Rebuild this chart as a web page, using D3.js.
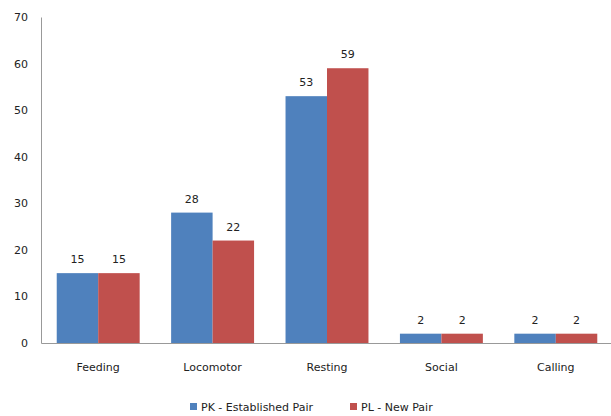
<!DOCTYPE html>
<meta charset="utf-8">
<script src="https://d3js.org/d3.v7.min.js"></script>
<style>
  body { margin: 0; background: #fff; }
  text { font-family: "DejaVu Sans", sans-serif; font-size: 11px; fill: #222; }
</style>
<div id="chart"></div>
<script>
// data
var categories = ["Feeding", "Locomotor", "Resting", "Social", "Calling"];
var seriesNames = ["PK - Established Pair", "PL - New Pair"];
var pkValues = [15, 28, 53, 2, 2];
var plValues = [15, 22, 59, 2, 2];
var yTicks = [0, 10, 20, 30, 40, 50, 60, 70];
var colors = ["#4F81BD", "#C0504D"];

var W = 611, H = 416;
var margin = {top: 17, right: -2, bottom: 73, left: 41};
var width = W - margin.left - margin.right,
    height = H - margin.top - margin.bottom;

var svg = d3.select("#chart").append("svg")
    .attr("width", W).attr("height", H)
  .append("g")
    .attr("transform", "translate(" + margin.left + "," + margin.top + ")");

var x = d3.scaleBand().domain(categories).range([0, width]).paddingInner(0.275).paddingOuter(0.1375);
var x1 = d3.scaleBand().domain([0, 1]).range([0, x.bandwidth()]);
var y = d3.scaleLinear().domain([0, 70]).range([height, 0]);

// y axis
var yAxis = svg.append("g").call(d3.axisLeft(y).tickValues(yTicks).tickSize(0).tickPadding(13));
yAxis.select(".domain").attr("stroke", "#999");
yAxis.selectAll("text").style("font-size", "11px");

// bars
var rows = categories.map(function(c, i) { return {cat: c, vals: [pkValues[i], plValues[i]]}; });
var groups = svg.selectAll(".grp").data(rows).enter().append("g")
    .attr("transform", function(d) { return "translate(" + x(d.cat) + ",0)"; });

groups.selectAll("rect").data(function(d) { return d.vals; }).enter().append("rect")
    .attr("x", function(d, i) { return x1(i); })
    .attr("y", function(d) { return y(d); })
    .attr("width", x1.bandwidth())
    .attr("height", function(d) { return height - y(d); })
    .attr("fill", function(d, i) { return colors[i]; });

groups.selectAll(".lbl").data(function(d) { return d.vals; }).enter().append("text")
    .attr("x", function(d, i) { return x1(i) + x1.bandwidth() / 2; })
    .attr("y", function(d) { return y(d) - 10; })
    .attr("text-anchor", "middle")
    .text(function(d) { return d; });

// x axis
var xAxis = svg.append("g").attr("transform", "translate(0," + height + ")")
    .call(d3.axisBottom(x).tickSize(0).tickPadding(20));
xAxis.select(".domain").attr("stroke", "#999");
xAxis.selectAll("text").style("font-size", "11px");

// legend
var legend = d3.select("svg").append("g").attr("transform", "translate(0,407)");
var lx = [190, 350];
seriesNames.forEach(function(n, i) {
  legend.append("rect").attr("x", lx[i]).attr("y", -4).attr("width", 7).attr("height", 7).attr("fill", colors[i]);
  legend.append("text").attr("x", lx[i] + 11).attr("y", 4).text(n);
});
</script>
